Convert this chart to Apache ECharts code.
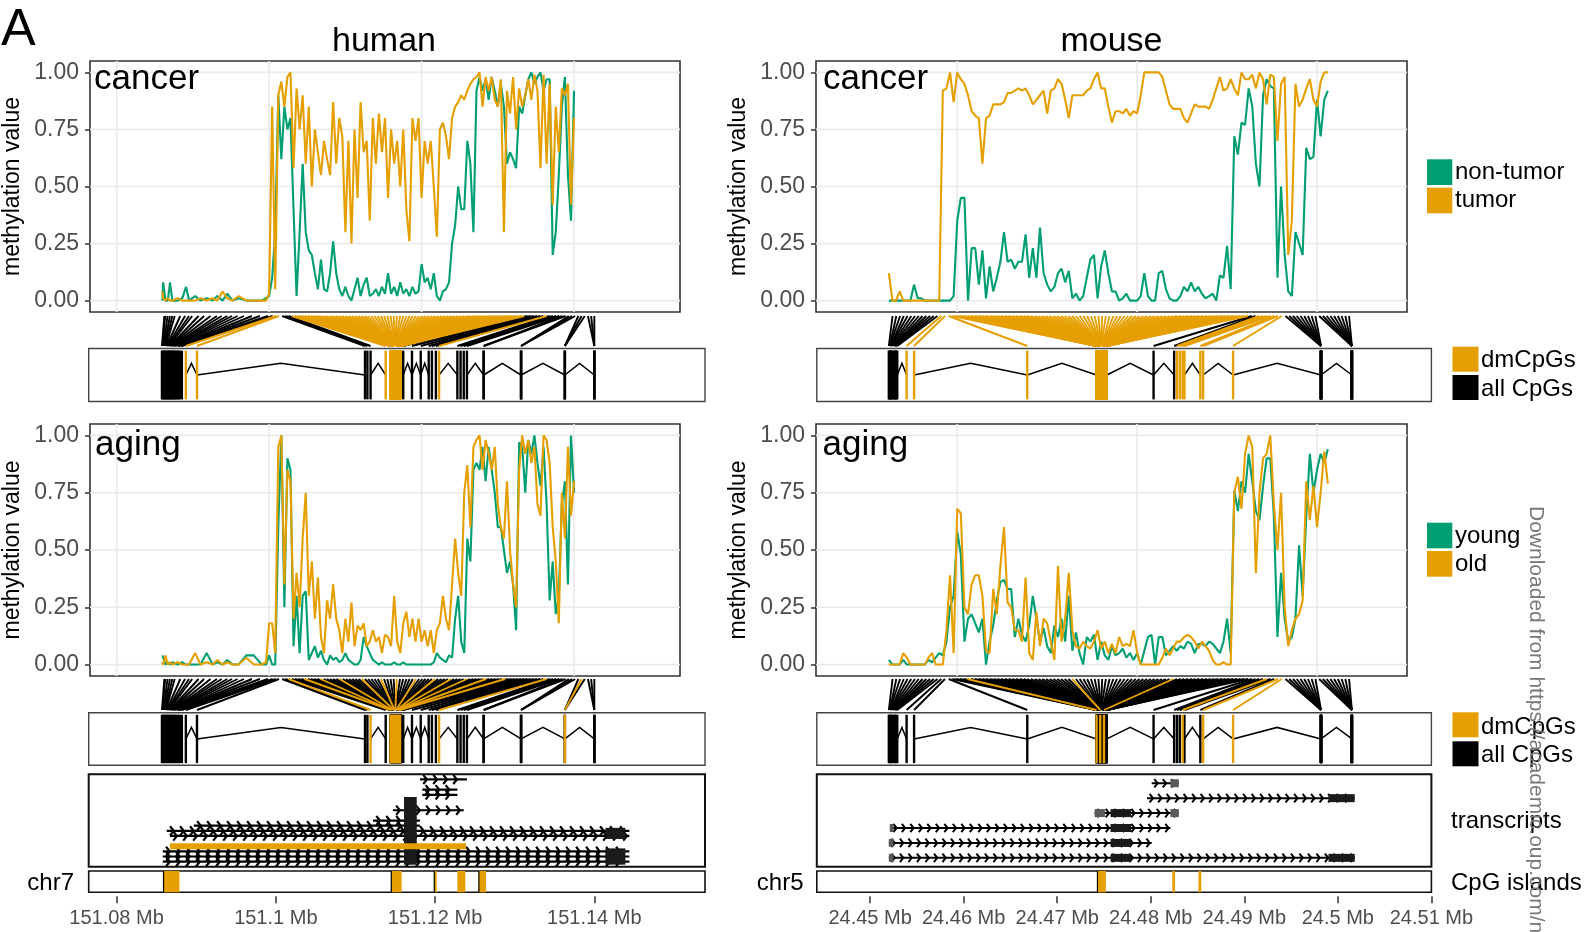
<!DOCTYPE html>
<html>
<head>
<meta charset="utf-8">
<script src="https://cdn.jsdelivr.net/npm/echarts@6/dist/echarts.min.js"></script>
<style>
  html, body { margin: 0; padding: 0; background: #fff; }
  #chart { width: 1585px; height: 932px; }
</style>
</head>
<body>
<div id="chart"></div>
<script>
// ---------- data ----------
const yTicks = [0, 0.25, 0.5, 0.75, 1];
const humanBreaks = [151.08, 151.1, 151.12, 151.14];
const mouseTopBreaks = [24.46, 24.48, 24.5];
const mouseBreaks = [24.45, 24.46, 24.47, 24.48, 24.49, 24.5, 24.51];

// human CpGs (plot position, Mb)
const humanPos = [
  151.0860, 151.0861, 151.0864, 151.0867, 151.0870, 151.0873, 151.0880, 151.0886, 151.0891, 151.0895,
  151.0903, 151.0910, 151.0918, 151.0926, 151.0932, 151.0939, 151.0945, 151.0952, 151.0960, 151.0970,
  151.0980, 151.0990, 151.0996,
  151.1000, 151.1004, 151.1008, 151.1012, 151.1016, 151.1020, 151.1024, 151.1028, 151.1032, 151.1036,
  151.1040, 151.1044, 151.1048, 151.1052, 151.1056, 151.1060, 151.1064, 151.1068, 151.1072, 151.1076,
  151.1080, 151.1084, 151.1088, 151.1092, 151.1096, 151.1100, 151.1104, 151.1108, 151.1112, 151.1116,
  151.1120, 151.1124, 151.1128, 151.1132, 151.1136, 151.1140, 151.1144, 151.1148, 151.1152, 151.1156,
  151.1160, 151.1164, 151.1168, 151.1172, 151.1176, 151.1180, 151.1184, 151.1188, 151.1192, 151.1196,
  151.1200, 151.1204, 151.1208, 151.1212, 151.1216, 151.1220, 151.1224, 151.1228, 151.1232, 151.1236,
  151.1240, 151.1244, 151.1248, 151.1252, 151.1256, 151.1260, 151.1264, 151.1268, 151.1272, 151.1276,
  151.1280, 151.1284, 151.1288, 151.1292, 151.1296, 151.1300, 151.1304, 151.1308, 151.1312, 151.1316,
  151.1320, 151.1324, 151.1328, 151.1332, 151.1336, 151.1340, 151.1344, 151.1348, 151.1352, 151.1356,
  151.1360, 151.1364, 151.1368, 151.1372, 151.1376, 151.1380, 151.1384, 151.1388, 151.1392, 151.1396,
  151.1400
];
const humanCancerNonTumor = [
  0.00, 0.08, 0.00, 0.00, 0.08, 0.00, 0.00, 0.01, 0.06, 0.00, 0.02, 0.00, 0.01, 0.00, 0.02, 0.00,
  0.03, 0.00, 0.01, 0.00, 0.00, 0.00, 0.01,
  0.02, 0.10, 0.30, 0.90, 0.62, 0.85, 0.75, 0.80, 0.40, 0.02,
  0.30, 0.60, 0.30, 0.22, 0.20, 0.12, 0.05, 0.18, 0.05, 0.04,
  0.12, 0.26, 0.12, 0.05, 0.02, 0.06, 0.02, 0.00, 0.05, 0.10,
  0.02, 0.07, 0.10, 0.02, 0.03, 0.05, 0.02, 0.06, 0.03, 0.12,
  0.03, 0.06, 0.02, 0.08, 0.03, 0.05, 0.02, 0.06, 0.03, 0.04,
  0.16, 0.08, 0.10, 0.05, 0.12, 0.02, 0.00, 0.04, 0.05, 0.08,
  0.25, 0.33, 0.50, 0.40, 0.40, 0.70, 0.60, 0.30, 0.92, 0.98,
  0.92, 0.97, 0.88, 0.98, 0.92, 0.85, 0.95, 0.85, 0.60, 0.65,
  0.62, 0.58, 0.85, 0.82, 0.90, 0.97, 1.00, 0.95, 0.98, 1.00,
  0.92, 0.97, 0.97, 0.20, 0.30, 0.55, 0.85, 0.98, 0.55, 0.35,
  0.92
];
const humanCancerTumor = [
  0.04, 0.01, 0.00, 0.01, 0.00, 0.00, 0.01, 0.00, 0.00, 0.00, 0.00, 0.01, 0.00, 0.01, 0.00, 0.04,
  0.01, 0.00, 0.02, 0.00, 0.00, 0.00, 0.00,
  0.03, 0.85, 0.05, 0.90, 0.96, 0.85, 0.98, 1.00, 0.58, 0.93,
  0.75, 0.90, 0.60, 0.85, 0.50, 0.75, 0.65, 0.55, 0.70, 0.62,
  0.55, 0.87, 0.60, 0.80, 0.72, 0.30, 0.70, 0.25, 0.75, 0.45,
  0.87, 0.65, 0.70, 0.35, 0.80, 0.60, 0.82, 0.65, 0.80, 0.45,
  0.75, 0.60, 0.70, 0.50, 0.75, 0.40, 0.26, 0.80, 0.70, 0.80,
  0.45, 0.70, 0.60, 0.70, 0.50, 0.28, 0.75, 0.78, 0.72, 0.62,
  0.80, 0.85, 0.87, 0.90, 0.88, 0.92, 0.95, 0.97, 0.98, 1.00,
  0.85, 0.98, 0.92, 0.98, 0.88, 0.85, 0.97, 0.30, 0.92, 0.82,
  0.98, 0.75, 0.93, 0.85, 0.90, 0.97, 0.88, 0.99, 0.92, 0.58,
  0.99, 0.60, 0.95, 0.42, 0.85, 0.65, 0.93, 0.90, 0.95, 0.42,
  0.80
];
const humanAgingYoung = [
  0.04, 0.03, 0.00, 0.01, 0.00, 0.01, 0.00, 0.01, 0.00, 0.00, 0.00, 0.00, 0.05, 0.00, 0.01, 0.00,
  0.02, 0.00, 0.00, 0.04, 0.04, 0.00, 0.00,
  0.04, 0.00, 0.00, 0.60, 1.00, 0.25, 0.90, 0.85, 0.08, 0.30,
  0.05, 0.30, 0.32, 0.02, 0.05, 0.08, 0.03, 0.06, 0.02, 0.00,
  0.04, 0.02, 0.03, 0.01, 0.02, 0.05, 0.02, 0.01, 0.00, 0.00,
  0.02, 0.12, 0.08, 0.05, 0.02, 0.01, 0.00, 0.01, 0.00, 0.00,
  0.00, 0.01, 0.00, 0.00, 0.01, 0.00, 0.00, 0.00, 0.00, 0.00,
  0.00, 0.00, 0.00, 0.00, 0.01, 0.05, 0.03, 0.02, 0.01, 0.04,
  0.03, 0.20, 0.30, 0.10, 0.05, 0.55, 0.45, 0.85, 0.88, 0.85,
  0.95, 0.80, 0.95, 0.85, 0.75, 0.60, 0.60, 0.50, 0.40, 0.45,
  0.35, 0.15, 0.97, 0.95, 0.75, 0.98, 0.92, 1.00, 0.88, 0.78,
  0.95, 0.70, 0.28, 0.45, 0.22, 0.30, 0.70, 0.80, 0.35, 1.00,
  0.75
];
const humanAgingOld = [
  0.01, 0.00, 0.04, 0.00, 0.01, 0.00, 0.01, 0.00, 0.00, 0.00, 0.05, 0.00, 0.01, 0.00, 0.02, 0.00,
  0.01, 0.00, 0.00, 0.03, 0.00, 0.00, 0.01,
  0.18, 0.18, 0.05, 0.95, 1.00, 0.35, 0.85, 0.80, 0.20, 0.40,
  0.25, 0.55, 0.75, 0.30, 0.45, 0.20, 0.38, 0.12, 0.05, 0.28,
  0.20, 0.35, 0.20, 0.15, 0.05, 0.20, 0.10, 0.27, 0.08, 0.17,
  0.15, 0.18, 0.08, 0.10, 0.15, 0.10, 0.12, 0.05, 0.13, 0.12,
  0.08, 0.30, 0.10, 0.05, 0.18, 0.23, 0.12, 0.20, 0.10, 0.20,
  0.10, 0.15, 0.08, 0.15, 0.05, 0.15, 0.18, 0.30, 0.20, 0.15,
  0.35, 0.55, 0.40, 0.30, 0.75, 0.87, 0.60, 0.95, 0.98, 1.00,
  0.85, 0.98, 0.92, 0.85, 0.95, 0.70, 0.60, 0.55, 0.80, 0.50,
  0.35, 0.25, 0.85, 1.00, 0.92, 0.98, 0.88, 0.95, 0.70, 0.65,
  1.00, 0.98, 0.88, 0.60, 0.45, 0.18, 0.75, 0.55, 0.95, 0.65,
  0.80
];
// genomic position of each human CpG in the gene track
const humanBoxPos = [
  151.0857, 151.0858, 151.0859, 151.0860, 151.0861, 151.0862, 151.0863, 151.0864, 151.0865, 151.0866,
  151.0867, 151.0868, 151.0869, 151.0870, 151.0871, 151.0872, 151.0873, 151.0874, 151.0876, 151.0877,
  151.0878, 151.0880, 151.0882,
  151.0887, 151.0901, 151.1112, 151.1115, 151.1119, 151.1138,
  151.1144, 151.1144, 151.1144, 151.1144, 151.1144, 151.1145, 151.1145, 151.1145, 151.1145, 151.1145,
  151.1146, 151.1146, 151.1146, 151.1146, 151.1146, 151.1147, 151.1147, 151.1147, 151.1147, 151.1147,
  151.1148, 151.1148, 151.1148, 151.1148, 151.1148, 151.1149, 151.1149, 151.1149, 151.1149, 151.1149,
  151.1150, 151.1150, 151.1150, 151.1150, 151.1150,
  151.1151, 151.1151, 151.1151, 151.1151, 151.1151, 151.1151,
  151.1152, 151.1152, 151.1152, 151.1152, 151.1152, 151.1152,
  151.1153, 151.1153, 151.1153, 151.1153, 151.1153, 151.1153,
  151.1154, 151.1154, 151.1154, 151.1154, 151.1154, 151.1155, 151.1155, 151.1155, 151.1155, 151.1155,
  151.1156, 151.1156, 151.1156, 151.1156, 151.1156, 151.1157, 151.1157, 151.1157, 151.1157, 151.1157,
  151.1160, 151.1171, 151.1182, 151.1192, 151.1196, 151.1201, 151.1205,
  151.1228, 151.1232, 151.1236, 151.1240, 151.1261, 151.1261,
  151.1308, 151.1308, 151.1308, 151.1363, 151.1363, 151.1363,
  151.1400, 151.1400, 151.1400
];
// index ranges of differentially methylated CpGs
const humanCancerDm = [[23, 24], [28, 101], [108, 108]];
const humanAgingDm = [[27, 27], [32, 32], [37, 37], [43, 43], [50, 50], [56, 56], [61, 61], [67, 67],
  [73, 73], [78, 78], [83, 83], [89, 89], [95, 95], [108, 108], [119, 119]];
const humanIntrons = [[151.0887, 151.0901], [151.0901, 151.1112], [151.1119, 151.1138], [151.1160, 151.1171],
  [151.1171, 151.1182], [151.1182, 151.1192], [151.1205, 151.1228], [151.1240, 151.1261],
  [151.1261, 151.1308], [151.1308, 151.1363], [151.1363, 151.1400]];
// transcripts: start, end, stack level, highlighted
const humanTx = [
  [151.1181, 151.1240, 1, 0], [151.1184, 151.1228, 3, 0], [151.1184, 151.1228, 4, 0],
  [151.1147, 151.1236, 7, 0], [151.1122, 151.1181, 9, 0], [151.0897, 151.1181, 10, 0],
  [151.0863, 151.1444, 11, 0], [151.0867, 151.1444, 12, 0], [151.0867, 151.1239, 14, 1],
  [151.0858, 151.1444, 15, 0], [151.0858, 151.1444, 16, 0], [151.0858, 151.1444, 17, 0]
];
// exons: start, end, from level, to level, dark
const humanExons = [
  [151.1161, 151.1177, 5, 17, 1], [151.1414, 151.1439, 11, 12, 1], [151.1414, 151.1439, 15, 17, 1]
];
const humanIslands = [[151.0859, 151.0879, 1], [151.1145, 151.1158, 1], [151.1199, 151.1202, 1],
  [151.1228, 151.1238, 0], [151.1255, 151.1264, 1]];

// mouse CpGs
const mousePos = [
  24.4524, 24.4528, 24.4532, 24.4536, 24.4540, 24.4544, 24.4548, 24.4552, 24.4556, 24.4560,
  24.4564, 24.4568, 24.4572, 24.4576, 24.4580, 24.4584, 24.4588, 24.4592, 24.4596, 24.4600,
  24.4604, 24.4608, 24.4612, 24.4616, 24.4620, 24.4624, 24.4628, 24.4632, 24.4636, 24.4640,
  24.4644, 24.4648, 24.4652, 24.4656, 24.4660, 24.4664, 24.4668, 24.4672, 24.4676, 24.4680,
  24.4684, 24.4688, 24.4692, 24.4696, 24.4700, 24.4704, 24.4708, 24.4712, 24.4716, 24.4720,
  24.4724, 24.4728, 24.4732, 24.4736, 24.4740, 24.4744, 24.4748, 24.4752, 24.4756, 24.4760,
  24.4764, 24.4768, 24.4772, 24.4776, 24.4780, 24.4784, 24.4788, 24.4792, 24.4796, 24.4800,
  24.4804, 24.4808, 24.4812, 24.4816, 24.4820, 24.4824, 24.4828, 24.4832, 24.4836, 24.4840,
  24.4844, 24.4848, 24.4852, 24.4856, 24.4860, 24.4864, 24.4868, 24.4872, 24.4876, 24.4880,
  24.4884, 24.4888, 24.4892, 24.4896, 24.4900, 24.4904, 24.4908, 24.4912, 24.4916, 24.4920,
  24.4924, 24.4928, 24.4932, 24.4936, 24.4940, 24.4944, 24.4948, 24.4952, 24.4956, 24.4960,
  24.4964, 24.4968, 24.4972, 24.4976, 24.4980, 24.4984, 24.4988, 24.4992, 24.4996, 24.5000,
  24.5004, 24.5008, 24.5012
];
const mouseCancerNonTumor = [
  0.00, 0.00, 0.00, 0.00, 0.00, 0.00, 0.00, 0.07, 0.01, 0.01,
  0.00, 0.00, 0.00, 0.00, 0.00, 0.00, 0.00, 0.00, 0.02, 0.35,
  0.45, 0.45, 0.00, 0.23, 0.23, 0.07, 0.22, 0.01, 0.15, 0.04,
  0.10, 0.17, 0.30, 0.17, 0.18, 0.14, 0.17, 0.17, 0.29, 0.10,
  0.23, 0.10, 0.32, 0.12, 0.07, 0.04, 0.06, 0.12, 0.14, 0.08,
  0.13, 0.01, 0.03, 0.00, 0.02, 0.10, 0.18, 0.20, 0.01, 0.15,
  0.22, 0.12, 0.04, 0.04, 0.00, 0.01, 0.03, 0.00, 0.00, 0.00,
  0.02, 0.12, 0.02, 0.00, 0.00, 0.12, 0.13, 0.05, 0.01, 0.00,
  0.00, 0.02, 0.06, 0.04, 0.08, 0.04, 0.06, 0.03, 0.01, 0.02,
  0.03, 0.00, 0.11, 0.10, 0.24, 0.05, 0.72, 0.64, 0.78, 0.77,
  0.93, 0.85, 0.60, 0.50, 0.90, 0.97, 0.94, 0.93, 0.10, 0.50,
  0.20, 0.04, 0.02, 0.30, 0.25, 0.20, 0.67, 0.62, 0.63, 0.88,
  0.72, 0.88, 0.92
];
const mouseCancerTumor = [
  0.12, 0.00, 0.00, 0.04, 0.00, 0.00, 0.00, 0.00, 0.00, 0.00,
  0.00, 0.00, 0.00, 0.00, 0.00, 0.92, 0.93, 1.00, 0.87, 1.00,
  0.97, 0.95, 0.90, 0.83, 0.81, 0.80, 0.60, 0.80, 0.81, 0.86,
  0.86, 0.86, 0.87, 0.91, 0.91, 0.92, 0.93, 0.92, 0.93, 0.90,
  0.86, 0.88, 0.90, 0.92, 0.82, 0.92, 0.93, 0.97, 0.95, 0.88,
  0.80, 0.90, 0.90, 0.90, 0.90, 0.92, 0.93, 0.97, 1.00, 0.93,
  0.93, 0.85, 0.78, 0.83, 0.83, 0.82, 0.84, 0.81, 0.83, 0.82,
  0.90, 1.00, 1.00, 1.00, 1.00, 1.00, 0.98, 0.92, 0.86, 0.84,
  0.84, 0.84, 0.80, 0.78, 0.82, 0.86, 0.85, 0.85, 0.85, 0.84,
  0.88, 0.93, 0.98, 0.92, 0.93, 0.97, 0.93, 0.90, 1.00, 0.97,
  0.97, 0.99, 0.93, 1.00, 0.97, 0.86, 0.99, 0.98, 0.70, 0.95,
  0.98, 0.20, 0.35, 0.95, 0.85, 0.88, 0.93, 0.97, 0.88, 0.85,
  0.96, 1.00, 1.00
];
const mouseAgingYoung = [
  0.02, 0.00, 0.00, 0.00, 0.02, 0.00, 0.00, 0.00, 0.00, 0.00,
  0.00, 0.02, 0.01, 0.03, 0.05, 0.04, 0.10, 0.25, 0.30, 0.58,
  0.48, 0.10, 0.20, 0.22, 0.18, 0.14, 0.20, 0.00, 0.10, 0.17,
  0.28, 0.36, 0.37, 0.33, 0.33, 0.12, 0.20, 0.13, 0.10, 0.17,
  0.30, 0.20, 0.10, 0.16, 0.08, 0.05, 0.17, 0.12, 0.20, 0.10,
  0.30, 0.06, 0.14, 0.05, 0.00, 0.12, 0.10, 0.13, 0.02, 0.10,
  0.04, 0.02, 0.08, 0.04, 0.05, 0.07, 0.03, 0.05, 0.02, 0.05,
  0.00, 0.06, 0.12, 0.13, 0.00, 0.12, 0.12, 0.04, 0.06, 0.08,
  0.06, 0.08, 0.07, 0.10, 0.09, 0.05, 0.09, 0.09, 0.08, 0.10,
  0.09, 0.07, 0.05, 0.10, 0.20, 0.05, 0.76, 0.67, 0.80, 0.75,
  0.92, 0.80, 0.67, 0.63, 0.78, 0.90, 0.90, 0.65, 0.12, 0.40,
  0.20, 0.10, 0.12, 0.20, 0.52, 0.30, 0.65, 0.92, 0.75, 0.85,
  0.92, 0.88, 0.94
];
const mouseAgingOld = [
  0.00, 0.00, 0.00, 0.00, 0.05, 0.03, 0.00, 0.00, 0.00, 0.00,
  0.00, 0.03, 0.05, 0.00, 0.00, 0.00, 0.15, 0.39, 0.05, 0.68,
  0.66, 0.25, 0.22, 0.35, 0.39, 0.39, 0.30, 0.06, 0.05, 0.33,
  0.22, 0.43, 0.60, 0.27, 0.25, 0.15, 0.15, 0.10, 0.38, 0.05,
  0.02, 0.23, 0.08, 0.20, 0.18, 0.10, 0.02, 0.43, 0.10, 0.20,
  0.40, 0.15, 0.08, 0.07, 0.10, 0.08, 0.07, 0.10, 0.15, 0.07,
  0.10, 0.05, 0.09, 0.05, 0.12, 0.08, 0.09, 0.08, 0.15, 0.05,
  0.00, 0.00, 0.00, 0.00, 0.00, 0.00, 0.03, 0.07, 0.04, 0.07,
  0.10, 0.10, 0.12, 0.13, 0.12, 0.10, 0.07, 0.10, 0.08, 0.06,
  0.02, 0.00, 0.00, 0.01, 0.00, 0.00, 0.75, 0.82, 0.68, 0.92,
  1.00, 0.95, 0.40, 0.75, 0.90, 0.92, 1.00, 0.70, 0.50, 0.75,
  0.25, 0.08, 0.15, 0.20, 0.22, 0.28, 0.80, 0.63, 0.78, 0.60,
  0.75, 0.93, 0.79
];
const mouseBoxPos = [
  24.4520, 24.4521, 24.4521, 24.4522, 24.4522, 24.4523, 24.4524, 24.4525, 24.4526, 24.4527,
  24.4527, 24.4528, 24.4529, 24.4539, 24.4547, 24.4668,
  24.4742, 24.4742, 24.4742, 24.4742, 24.4742, 24.4742, 24.4742,
  24.4743, 24.4743, 24.4743, 24.4743, 24.4743, 24.4743, 24.4743,
  24.4744, 24.4744, 24.4744, 24.4744, 24.4744, 24.4744, 24.4744,
  24.4745, 24.4745, 24.4745, 24.4745, 24.4745, 24.4745, 24.4745,
  24.4746, 24.4746, 24.4746, 24.4746, 24.4746, 24.4746, 24.4746,
  24.4747, 24.4747, 24.4747, 24.4747, 24.4747, 24.4747, 24.4747,
  24.4748, 24.4748, 24.4748, 24.4748, 24.4748, 24.4748, 24.4748,
  24.4749, 24.4749, 24.4749, 24.4749, 24.4749, 24.4749,
  24.4750, 24.4750, 24.4750, 24.4750, 24.4750, 24.4750,
  24.4751, 24.4751, 24.4751, 24.4751, 24.4751, 24.4751,
  24.4752, 24.4752, 24.4752, 24.4752, 24.4752, 24.4752,
  24.4753, 24.4753, 24.4753, 24.4753, 24.4753, 24.4753, 24.4753,
  24.4803, 24.4825, 24.4828, 24.4831, 24.4834, 24.4836, 24.4853, 24.4856, 24.4888,
  24.4982, 24.4982, 24.4982, 24.4982, 24.4982, 24.4982, 24.4982, 24.4982, 24.4982,
  24.5015, 24.5015, 24.5015, 24.5015, 24.5015, 24.5015, 24.5015, 24.5015, 24.5015
];
const mouseCancerDm = [[13, 95], [98, 104]];
const mouseAgingDm = [[20, 20], [48, 48], [75, 75], [100, 100], [103, 104]];
const mouseIntrons = [[24.4529, 24.4539], [24.4547, 24.4668], [24.4668, 24.4742], [24.4753, 24.4803],
  [24.4803, 24.4825], [24.4836, 24.4853], [24.4856, 24.4888], [24.4888, 24.4982], [24.4982, 24.5015]];
const mouseTx = [
  [24.4801, 24.4830, 1, 0], [24.4796, 24.5018, 2, 0], [24.4740, 24.4830, 3, 0],
  [24.4522, 24.4821, 4, 0], [24.4520, 24.4801, 5, 0], [24.4520, 24.5018, 6, 0]
];
const mouseExons = [
  [24.4821, 24.4830, 1, 1, 0], [24.4990, 24.5018, 2, 2, 1], [24.4740, 24.4751, 3, 3, 0],
  [24.4821, 24.4830, 3, 3, 0], [24.4757, 24.4779, 3, 3, 1], [24.4757, 24.4779, 4, 4, 1],
  [24.4757, 24.4779, 5, 5, 1], [24.4757, 24.4779, 6, 6, 1], [24.4521, 24.4525, 4, 4, 0],
  [24.4520, 24.4525, 5, 5, 0], [24.4520, 24.4525, 6, 6, 0], [24.4990, 24.5018, 6, 6, 1]
];
const mouseIslands = [[24.4743, 24.4752, 1], [24.4823, 24.4826, 0], [24.4851, 24.4854, 0]];

// ---------- layout & style ----------
const ORANGE = '#E69F00';
const GREEN = '#009E73';
const FONT = '"Liberation Sans", Arial, Helvetica, sans-serif';

const COLS = {
  human: { plotL: 88, plotW: 592, trackL: 88.7, trackW: 616.3, range: [151.0765, 151.1539] },
  mouse: { plotL: 816, plotW: 591, trackL: 816.8, trackW: 614.6, range: [24.4443, 24.51] }
};
const ROWS = {
  cancer: { plotT: 61, plotH: 251, connT: 316, connH: 30, boxT: 348.5, boxH: 53 },
  aging: { plotT: 424, plotH: 252, connT: 679, connH: 31, boxT: 712.7, boxH: 52.5 }
};
const TRACK = { txT: 774.3, txH: 92.5, islT: 871, islH: 21.3 };

const grid = [], xAxis = [], yAxis = [], series = [];

function addGrid(box, xr, yr, o) {
  o = o || {};
  const i = grid.length;
  grid.push({
    left: box.l, top: box.t, width: box.w, height: box.h, show: true,
    backgroundColor: '#fff', borderColor: o.border || '#333', borderWidth: o.bw || 1.5
  });
  xAxis.push(Object.assign({ type: 'value', gridIndex: i, min: xr[0], max: xr[1], show: false,
    splitLine: { show: false } }, o.x || {}));
  yAxis.push(Object.assign({ type: 'value', gridIndex: i, min: yr[0], max: yr[1], show: false,
    inverse: !!o.inverse, splitLine: { show: false } }, o.y || {}));
  return i;
}

function expandDm(ranges, n) {
  const f = new Array(n).fill(0);
  ranges.forEach(function (r) { for (let k = r[0]; k <= r[1]; k++) f[k] = 1; });
  return f;
}

function plotY() {
  return {
    show: true,
    axisLine: { show: false },
    axisTick: { show: true, length: 5, customValues: yTicks, lineStyle: { color: '#333', width: 1.5 } },
    axisLabel: { show: true, customValues: yTicks, margin: 11, color: '#4D4D4D', fontSize: 23,
      fontFamily: FONT, formatter: function (v) { return v.toFixed(2); } },
    name: 'methylation value', nameLocation: 'middle', nameGap: 66,
    nameTextStyle: { fontSize: 23, color: '#000', fontFamily: FONT }
  };
}

function addGridLines(i, xVals, yVals, xMin) {
  series.push({
    type: 'custom', xAxisIndex: i, yAxisIndex: i, z: 1, silent: true,
    data: xVals.map(function (v) { return [v, 0]; }),
    renderItem: function (p, api) {
      const cs = p.coordSys;
      const x = api.coord([api.value(0), 0])[0];
      return { type: 'line', shape: { x1: x, y1: cs.y, x2: x, y2: cs.y + cs.height },
        style: { stroke: '#EBEBEB', lineWidth: 1.7 } };
    }
  });
  series.push({
    type: 'custom', xAxisIndex: i, yAxisIndex: i, z: 1, silent: true,
    data: yVals.map(function (v) { return [xMin, v]; }),
    renderItem: function (p, api) {
      const cs = p.coordSys;
      const y = api.coord([api.value(0), api.value(1)])[1];
      return { type: 'line', shape: { x1: cs.x, y1: y, x2: cs.x + cs.width, y2: y },
        style: { stroke: '#EBEBEB', lineWidth: 1.7 } };
    }
  });
}

function addLine(i, pos, vals, color) {
  series.push({
    type: 'line', xAxisIndex: i, yAxisIndex: i, silent: true, clip: false, z: 3,
    showSymbol: false, symbol: 'none',
    data: pos.map(function (p, k) { return [p, vals[k]]; }),
    lineStyle: { color: color, width: 2.1 }, itemStyle: { color: color }
  });
}

function addConnectors(i, pos, boxPos, flags) {
  [0, 1].forEach(function (f) {
    series.push({
      type: 'custom', xAxisIndex: i, yAxisIndex: i, z: 2 + f, silent: true,
      data: pos.map(function (p, k) { return [p, boxPos[k], flags[k]]; })
        .filter(function (d) { return d[2] === f; }),
      renderItem: function (prm, api) {
        const a = api.coord([api.value(0), 1]);
        const b = api.coord([api.value(1), 0]);
        return { type: 'line', shape: { x1: a[0], y1: a[1], x2: b[0], y2: b[1] },
          style: { stroke: f ? ORANGE : '#000', lineWidth: 1.9 } };
      }
    });
  });
}

function addGeneBox(i, boxPos, flags, introns) {
  series.push({
    type: 'custom', xAxisIndex: i, yAxisIndex: i, z: 2, silent: true,
    data: introns,
    renderItem: function (p, api) {
      const s = api.value(0), e = api.value(1);
      return { type: 'polyline', shape: { points: [api.coord([s, 0.5]), api.coord([(s + e) / 2, 0.72]),
        api.coord([e, 0.5])] }, style: { stroke: '#000', fill: null, lineWidth: 1.5 } };
    }
  });
  [0, 1].forEach(function (f) {
    series.push({
      type: 'custom', xAxisIndex: i, yAxisIndex: i, z: 3 + f, silent: true,
      data: boxPos.map(function (b, k) { return [b, 0, flags[k]]; })
        .filter(function (d) { return d[2] === f; }),
      renderItem: function (p, api) {
        const a = api.coord([api.value(0), 0.04]);
        const b = api.coord([api.value(0), 0.96]);
        return { type: 'line', shape: { x1: a[0], y1: a[1], x2: b[0], y2: b[1] },
          style: { stroke: f ? ORANGE : '#000', lineWidth: 2.4 } };
      }
    });
  });
}

function addTranscripts(i, tx, exons, spacing, size, exonH, lw) {
  [0, 1].forEach(function (hiFlag) {
    series.push({
      type: 'custom', xAxisIndex: i, yAxisIndex: i, z: hiFlag ? 6 : 3, silent: true,
      data: tx.filter(function (d) { return d[3] === hiFlag; }),
      renderItem: function (p, api) {
        const lv = api.value(2);
        const s = api.coord([api.value(0), lv]);
        const e = api.coord([api.value(1), lv]);
        if (hiFlag) {
          return { type: 'line', shape: { x1: s[0], y1: s[1], x2: e[0], y2: e[1] },
            style: { stroke: ORANGE, lineWidth: 6 } };
        }
        const kids = [{ type: 'line', shape: { x1: s[0], y1: s[1], x2: e[0], y2: e[1] },
          style: { stroke: '#000', lineWidth: lw } }];
        for (let x = s[0] + spacing * 0.7; x < e[0]; x += spacing) {
          kids.push({ type: 'polyline', shape: { points: [[x - size * 0.8, s[1] - size], [x, s[1]],
            [x - size * 0.8, s[1] + size]] }, style: { stroke: '#000', fill: null, lineWidth: lw } });
        }
        return { type: 'group', children: kids };
      }
    });
  });
  series.push({
    type: 'custom', xAxisIndex: i, yAxisIndex: i, z: 5, silent: true,
    data: exons,
    renderItem: function (p, api) {
      const a = api.coord([api.value(0), api.value(2)]);
      const b = api.coord([api.value(1), api.value(3)]);
      return { type: 'rect', shape: { x: a[0], y: a[1] - exonH / 2, width: Math.max(b[0] - a[0], 2),
        height: b[1] - a[1] + exonH }, style: { fill: api.value(4) ? '#1a1a1a' : '#5a5a5a' } };
    }
  });
}

function addIslands(i, islands) {
  series.push({
    type: 'custom', xAxisIndex: i, yAxisIndex: i, z: 3, silent: true,
    data: islands,
    renderItem: function (p, api) {
      const a = api.coord([api.value(0), 1]);
      const b = api.coord([api.value(1), 0]);
      const kids = [{ type: 'rect', shape: { x: a[0], y: a[1], width: Math.max(b[0] - a[0], 2),
        height: b[1] - a[1] }, style: { fill: ORANGE } }];
      if (api.value(2)) {
        kids.push({ type: 'line', shape: { x1: a[0], y1: a[1], x2: a[0], y2: b[1] },
          style: { stroke: '#000', lineWidth: 1.2 } });
      }
      return { type: 'group', children: kids };
    }
  });
}

function bottomAxis(breaks) {
  return {
    show: true, offset: 4,
    axisLine: { show: false, onZero: false },
    axisTick: { show: true, length: 7, customValues: breaks, lineStyle: { color: '#333', width: 1.5 } },
    axisLabel: { show: true, customValues: breaks, margin: 12, color: '#4D4D4D', fontSize: 20,
      fontFamily: FONT, formatter: function (v) { return (+v.toFixed(2)) + ' Mb'; } }
  };
}

// ---------- build panels ----------
const species = {
  human: {
    pos: humanPos, boxPos: humanBoxPos, introns: humanIntrons, topBreaks: humanBreaks,
    cancer: [humanCancerNonTumor, humanCancerTumor, humanCancerDm],
    aging: [humanAgingYoung, humanAgingOld, humanAgingDm]
  },
  mouse: {
    pos: mousePos, boxPos: mouseBoxPos, introns: mouseIntrons, topBreaks: mouseTopBreaks,
    cancer: [mouseCancerNonTumor, mouseCancerTumor, mouseCancerDm],
    aging: [mouseAgingYoung, mouseAgingOld, mouseAgingDm]
  }
};

['human', 'mouse'].forEach(function (sp) {
  const c = COLS[sp], d = species[sp];
  ['cancer', 'aging'].forEach(function (row) {
    const r = ROWS[row];
    const p = addGrid({ l: c.plotL, t: r.plotT, w: c.plotW, h: r.plotH }, c.range, [-0.05, 1.05],
      { border: '#333', bw: 1.6, y: plotY() });
    addGridLines(p, d.topBreaks, yTicks, c.range[0]);
    addLine(p, d.pos, d[row][0], GREEN);
    addLine(p, d.pos, d[row][1], ORANGE);
    const flags = expandDm(d[row][2], d.pos.length);
    const cn = addGrid({ l: c.trackL, t: r.connT, w: c.trackW, h: r.connH }, c.range, [0, 1],
      { border: 'rgba(0,0,0,0)', bw: 0 });
    addConnectors(cn, d.pos, d.boxPos, flags);
    const bx = addGrid({ l: c.trackL, t: r.boxT, w: c.trackW, h: r.boxH }, c.range, [0, 1],
      { border: '#444', bw: 1.4 });
    addGeneBox(bx, d.boxPos, flags, d.introns);
  });
});

const htx = addGrid({ l: COLS.human.trackL, t: TRACK.txT, w: COLS.human.trackW, h: TRACK.txH },
  COLS.human.range, [0, 18], { border: '#111', bw: 2, inverse: true });
addTranscripts(htx, humanTx, humanExons, 10, 4.6, 6, 2.2);
const mtx = addGrid({ l: COLS.mouse.trackL, t: TRACK.txT, w: COLS.mouse.trackW, h: TRACK.txH },
  COLS.mouse.range, [0.4, 6.6], { border: '#111', bw: 2, inverse: true });
addTranscripts(mtx, mouseTx, mouseExons, 8.5, 4.2, 8, 2);

const hisl = addGrid({ l: COLS.human.trackL, t: TRACK.islT, w: COLS.human.trackW, h: TRACK.islH },
  COLS.human.range, [0, 1], { border: '#111', bw: 1.6, x: bottomAxis(humanBreaks) });
addIslands(hisl, humanIslands);
const misl = addGrid({ l: COLS.mouse.trackL, t: TRACK.islT, w: COLS.mouse.trackW, h: TRACK.islH },
  COLS.mouse.range, [0, 1], { border: '#111', bw: 1.6, x: bottomAxis(mouseBreaks) });
addIslands(misl, mouseIslands);

// ---------- texts & legends ----------
function txt(text, x, y, size, align, extra) {
  const st = Object.assign({ text: text, fontSize: size, fontFamily: FONT, fill: '#000',
    align: align || 'left', verticalAlign: 'middle',
    textAlign: align || 'left', textVerticalAlign: 'middle' }, extra || {});
  return { type: 'text', x: x, y: y + 3.5, silent: true, z: 100, style: st };
}
function box(x, y, w, h, color) {
  return { type: 'rect', silent: true, z: 100, shape: { x: x, y: y, width: w, height: h }, style: { fill: color } };
}

const graphic = [
  txt('A', 1, 27, 52),
  txt('human', 384, 38.5, 34, 'center'),
  txt('mouse', 1111.5, 38.5, 34, 'center'),
  txt('cancer', 94, 75.4, 35), txt('cancer', 823, 75.4, 35),
  txt('aging', 95, 441.4, 35), txt('aging', 822.5, 441.4, 35),
  box(1427, 159.3, 25.3, 25.7, GREEN), box(1427, 187.7, 25.3, 25.6, ORANGE),
  txt('non-tumor', 1455, 168.6, 24), txt('tumor', 1455, 196.6, 24),
  box(1427, 522.7, 25.3, 25.6, GREEN), box(1427, 551, 25.3, 25.7, ORANGE),
  txt('young', 1455, 533.3, 24), txt('old', 1455, 561, 24),
  box(1452.5, 346.7, 26, 25, ORANGE), box(1452.5, 375, 26, 25, '#000'),
  txt('dmCpGs', 1481, 356.6, 24), txt('all CpGs', 1481, 385.6, 24),
  box(1452.5, 712.3, 26, 25, ORANGE), box(1452.5, 741.3, 26, 25, '#000'),
  txt('dmCpGs', 1481, 724.3, 24), txt('all CpGs', 1481, 752.3, 24),
  txt('transcripts', 1451, 818.3, 24), txt('CpG islands', 1451, 880, 24),
  txt('chr7', 74, 880, 24, 'right'), txt('chr5', 803.5, 880, 24, 'right'),
  Object.assign(txt('Downloaded from https://academic.oup.com/nar/article-abstract', 1536, 502.5, 21, 'left',
    { fill: '#777' }), { rotation: -Math.PI / 2 })
];

const chart = echarts.init(document.getElementById('chart'));
chart.setOption({
  animation: false,
  backgroundColor: '#fff',
  grid: grid,
  xAxis: xAxis,
  yAxis: yAxis,
  series: series,
  graphic: { elements: graphic }
});
</script>
</body>
</html>
